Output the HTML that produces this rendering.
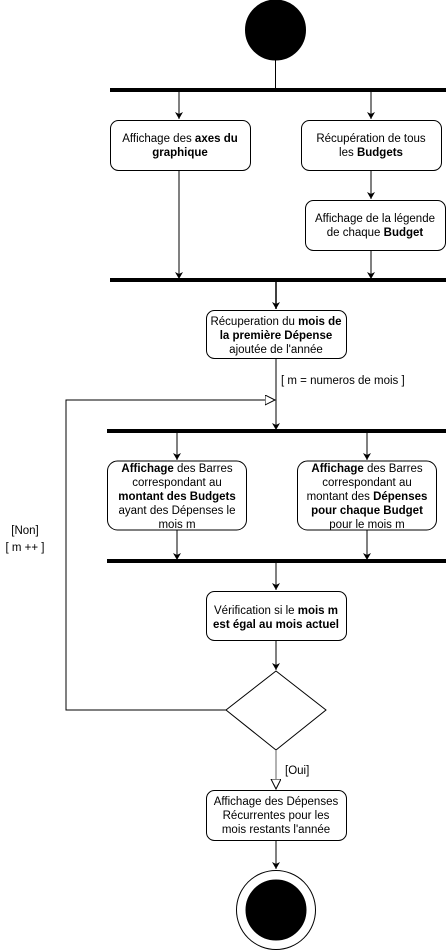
<!DOCTYPE html>
<html><head><meta charset="utf-8"><style>
html,body{margin:0;padding:0;background:#fff;}
svg{display:block;}
text{font-family:"Liberation Sans",sans-serif;font-size:11.5px;fill:#000;}
.b{font-weight:bold;}
</style></head><body>
<svg width="446" height="951" viewBox="0 0 446 951" xmlns="http://www.w3.org/2000/svg">
<defs>
<marker id="a" markerWidth="8" markerHeight="8" refX="7" refY="4" orient="auto" markerUnits="userSpaceOnUse"><path d="M0,0 L7,4 L0,8 L2,4 Z" fill="#000"/></marker>
<marker id="o" markerWidth="12" markerHeight="12" refX="10" refY="5" orient="auto" markerUnits="userSpaceOnUse"><path d="M0,0 L10,5 L0,10 Z" fill="#fff" stroke="#000"/></marker>
</defs>
<g stroke="#000" stroke-width="1" fill="none">
<circle cx="275.5" cy="30" r="30" fill="#000"/>
<line x1="275.5" y1="60" x2="275.5" y2="90"/>
<line x1="110" y1="90" x2="446" y2="90" stroke-width="4"/>
<line x1="179" y1="92" x2="179" y2="119" marker-end="url(#a)"/>
<line x1="371" y1="92" x2="371" y2="119" marker-end="url(#a)"/>
<rect x="110.5" y="120.5" width="140" height="50" rx="8"/>
<rect x="301.5" y="120.5" width="140" height="50" rx="8"/>
<line x1="371" y1="171" x2="371" y2="199" marker-end="url(#a)"/>
<rect x="305.5" y="200.5" width="140" height="50" rx="8"/>
<line x1="179" y1="171" x2="179" y2="279" marker-end="url(#a)"/>
<line x1="371" y1="251" x2="371" y2="279" marker-end="url(#a)"/>
<line x1="110" y1="280" x2="446" y2="280" stroke-width="4"/>
<line x1="276" y1="282" x2="276" y2="309" marker-end="url(#a)" stroke-width="1.5"/>
<rect x="206.5" y="310.5" width="140" height="48" rx="8"/>
<line x1="276" y1="359" x2="276" y2="430" marker-end="url(#a)"/>
<polyline points="226,710 66,710 66,400 275,400" marker-end="url(#o)"/>
<line x1="107" y1="431" x2="446" y2="431" stroke-width="4"/>
<line x1="177" y1="433" x2="177" y2="460" marker-end="url(#a)"/>
<line x1="367" y1="433" x2="367" y2="460" marker-end="url(#a)"/>
<rect x="107.5" y="461" width="139" height="69" rx="10"/>
<rect x="297.5" y="461" width="139" height="69" rx="10"/>
<line x1="177" y1="530" x2="177" y2="560" marker-end="url(#a)"/>
<line x1="367" y1="530" x2="367" y2="560" marker-end="url(#a)"/>
<line x1="107" y1="561" x2="446" y2="561" stroke-width="4"/>
<line x1="276" y1="563" x2="276" y2="590" marker-end="url(#a)"/>
<rect x="206.5" y="591.5" width="140" height="49" rx="8"/>
<line x1="276" y1="641" x2="276" y2="670" marker-end="url(#a)"/>
<polygon points="276,671 326,710 276,750 226,710"/>
<line x1="276" y1="750" x2="276" y2="789" marker-end="url(#o)" stroke="#666"/>
<rect x="206.5" y="790.5" width="140" height="50" rx="8"/>
<line x1="276" y1="841" x2="276" y2="869" marker-end="url(#a)"/>
<circle cx="276" cy="910" r="39.5" fill="#fff"/>
<circle cx="276" cy="910" r="30" fill="#000"/>
</g>
<g text-anchor="middle">
<text x="180" y="142">Affichage des <tspan class="b">axes du</tspan></text>
<text x="180" y="156" class="b">graphique</text>
<text x="371" y="142">Récupération de tous</text>
<text x="371" y="156">les <tspan class="b">Budgets</tspan></text>
<text x="375" y="222">Affichage de la légende</text>
<text x="375" y="236">de chaque <tspan class="b">Budget</tspan></text>
<text x="276" y="325">Récuperation du <tspan class="b">mois de</tspan></text>
<text x="276" y="339" class="b">la première Dépense</text>
<text x="276" y="353">ajoutée de l'année</text>
<text x="177" y="472"><tspan class="b">Affichage</tspan> des Barres</text>
<text x="177" y="486">correspondant au</text>
<text x="177" y="500" class="b">montant des Budgets</text>
<text x="177" y="514">ayant des Dépenses le</text>
<text x="177" y="528">mois m</text>
<text x="367" y="472"><tspan class="b">Affichage</tspan> des Barres</text>
<text x="367" y="486">correspondant au</text>
<text x="367" y="500">montant des <tspan class="b">Dépenses</tspan></text>
<text x="367" y="514" class="b">pour chaque Budget</text>
<text x="367" y="528">pour le mois m</text>
<text x="276" y="614">Vérification si le <tspan class="b">mois m</tspan></text>
<text x="276" y="628" class="b">est égal au mois actuel</text>
<text x="276" y="805">Affichage des Dépenses</text>
<text x="276" y="819">Récurrentes pour les</text>
<text x="276" y="833">mois restants  l'année</text>
<text x="25" y="534">[Non]</text>
<text x="25" y="551">[ m ++ ]</text>
</g>
<text x="281" y="384">[ m = numeros de mois ]</text>
<text x="285" y="774">[Oui]</text>
</svg>
</body></html>
